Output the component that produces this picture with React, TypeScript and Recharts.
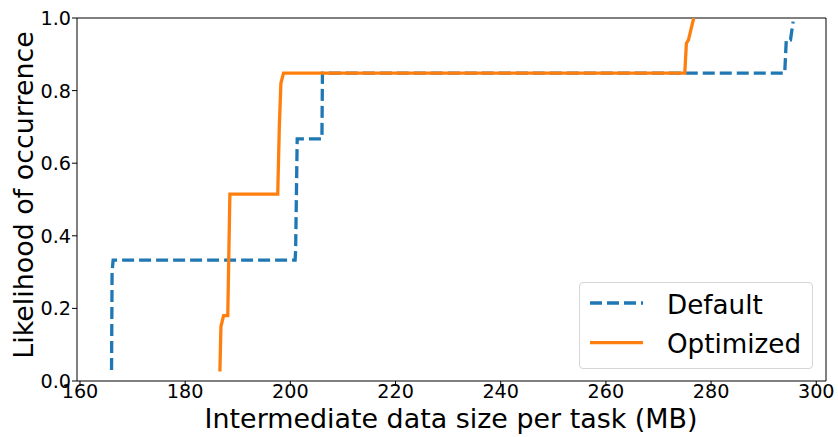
import React from "react";
import { LineChart, Line, XAxis, YAxis, ReferenceLine } from "recharts";

const xTicks = [160, 180, 200, 220, 240, 260, 280, 300];
const yTicks = [0, 0.2, 0.4, 0.6, 0.8, 1.0];

const defaultX = [166.0, 166.1, 166.3, 200.9, 201.0, 201.3, 206.0, 206.1, 294.0, 294.3, 295.1, 295.6];
const defaultY = [0.03, 0.3, 0.333, 0.333, 0.36, 0.667, 0.667, 0.848, 0.848, 0.94, 0.94, 0.99];

const optimizedX = [186.6, 186.8, 187.3, 188.1, 188.5, 197.6, 197.9, 198.2, 198.7, 275.0, 275.3, 275.7, 276.2, 276.7];
const optimizedY = [0.026, 0.15, 0.18, 0.18, 0.515, 0.515, 0.7, 0.82, 0.848, 0.848, 0.93, 0.94, 0.97, 1.0];

const seriesNames = ["Default", "Optimized"];
const BLUE = "#1f77b4";
const ORANGE = "#ff7f0e";
const FONT = "'DejaVu Sans', sans-serif";

const defaultData = defaultX.map((x, i) => ({ x, y: defaultY[i] }));
const optimizedData = optimizedX.map((x, i) => ({ x, y: optimizedY[i] }));

const XDOMAIN: [number, number] = [159.43, 301.85];

const XTick = (props: any) => {
  const { x, payload } = props;
  return (
    <text x={x} y={398} textAnchor="middle" fontFamily={FONT} fontSize={19.2} fill="#000">
      {payload.value}
    </text>
  );
};

const YTick = (props: any) => {
  const { y, payload } = props;
  return (
    <text x={71} y={y} dy="0.36em" textAnchor="end" fontFamily={FONT} fontSize={19.2} fill="#000">
      {Number(payload.value).toFixed(1)}
    </text>
  );
};

const LegendBox = () => (
  <div
    style={{
      position: "absolute",
      left: 579,
      top: 282,
      width: 234,
      height: 87,
      boxSizing: "border-box",
      border: "1px solid #d6d6d6",
      borderRadius: 4,
      background: "rgba(255,255,255,0.8)",
    }}
  >
    <svg width={234} height={87} style={{ position: "absolute", left: -1, top: -1 }}>
      <line x1={11} x2={64} y1={21} y2={21} stroke={BLUE} strokeWidth={3.3} strokeDasharray="12 5" />
      <text x={88} y={31.5} fontFamily={FONT} fontSize={26.2} fill="#000">
        {seriesNames[0]}
      </text>
      <line x1={11} x2={64} y1={60.7} y2={60.7} stroke={ORANGE} strokeWidth={3.3} />
      <text x={88} y={70.7} fontFamily={FONT} fontSize={26.2} fill="#000">
        {seriesNames[1]}
      </text>
    </svg>
  </div>
);

export default function App() {
  return (
    <div style={{ position: "absolute", left: 0, top: 0, width: 838, height: 437, background: "#fff" }}>
      <LineChart width={838} height={437} margin={{ top: 18, right: 12, left: 0, bottom: 0 }}>
        <XAxis
          type="number"
          dataKey="x"
          domain={XDOMAIN}
          ticks={xTicks}
          allowDataOverflow
          height={56}
          tick={<XTick />}
          tickSize={5}
          tickLine={{ stroke: "#000", strokeWidth: 1 }}
          axisLine={{ stroke: "#000", strokeWidth: 1 }}
          label={{
            content: () => (
              <text x={451} y={428} textAnchor="middle" fontFamily={FONT} fontSize={26.9} fill="#000">
                Intermediate data size per task (MB)
              </text>
            ),
          }}
        />
        <YAxis
          type="number"
          dataKey="y"
          domain={[0, 1]}
          ticks={yTicks}
          allowDataOverflow
          width={77}
          tick={<YTick />}
          tickSize={5}
          tickLine={{ stroke: "#000", strokeWidth: 1 }}
          axisLine={{ stroke: "#000", strokeWidth: 1 }}
          label={{
            content: () => (
              <text
                x={33}
                y={195}
                textAnchor="middle"
                transform="rotate(-90 33 195)"
                fontFamily={FONT}
                fontSize={26.9}
                fill="#000"
              >
                Likelihood of occurrence
              </text>
            ),
          }}
        />
        <ReferenceLine y={1} stroke="#000" strokeWidth={1} />
        <ReferenceLine x={XDOMAIN[1]} stroke="#000" strokeWidth={1} />
        <Line
          data={defaultData}
          dataKey="y"
          name={seriesNames[0]}
          type="linear"
          stroke={BLUE}
          strokeWidth={3.3}
          strokeDasharray="12 5"
          dot={false}
          activeDot={false}
          isAnimationActive={false}
        />
        <Line
          data={optimizedData}
          dataKey="y"
          name={seriesNames[1]}
          type="linear"
          stroke={ORANGE}
          strokeWidth={3.3}
          dot={false}
          activeDot={false}
          isAnimationActive={false}
        />
      </LineChart>
      <LegendBox />
    </div>
  );
}
